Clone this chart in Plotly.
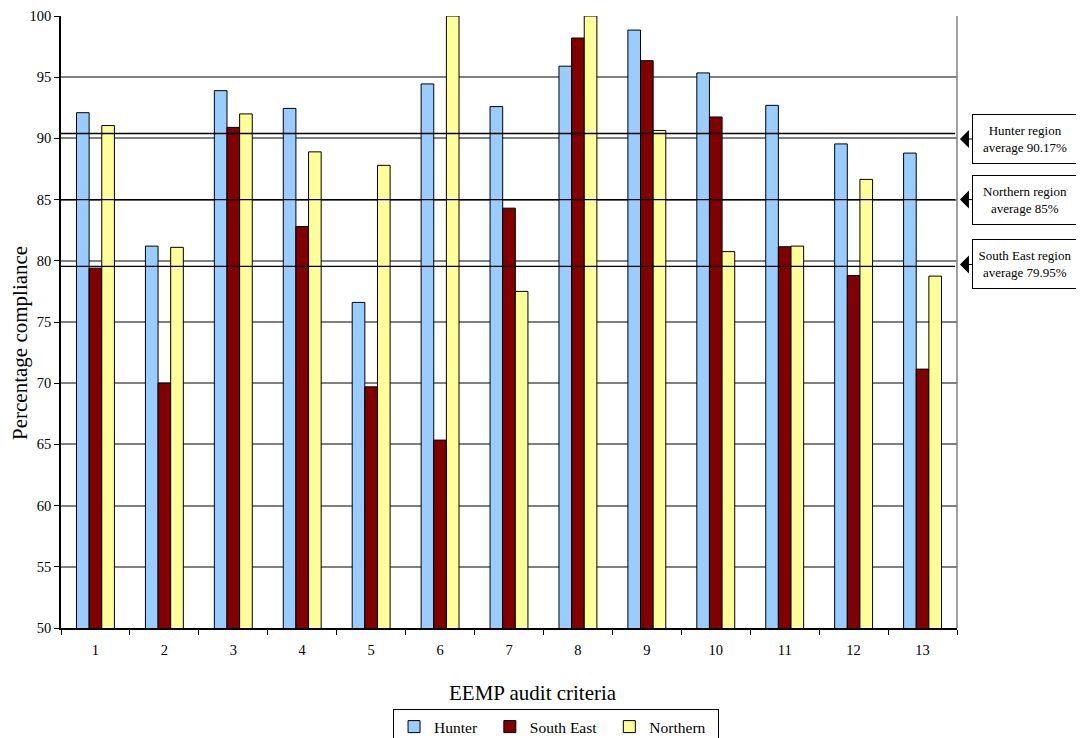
import plotly.graph_objects as go

criteria = [str(i) for i in range(1, 14)]
hunter = [92.1, 81.2, 93.9, 92.45, 76.6, 94.45, 92.6, 95.9, 98.85, 95.35, 92.7, 89.55, 88.8]
south_east = [79.4, 70.0, 90.9, 82.8, 69.7, 65.35, 84.3, 98.2, 96.35, 91.75, 81.15, 78.8, 71.15]
northern = [91.05, 81.1, 92.0, 88.9, 87.8, 100.0, 77.5, 100.0, 90.65, 80.75, 81.2, 86.65, 78.75]

series_names = ["Hunter", "South East", "Northern"]
series_colors = ["#99CCFF", "#800000", "#FFFF99"]

avg_labels = ["Hunter region<br>average 90.17%", "Northern region<br>average 85%",
              "South East region<br>average 79.95%"]
avg_line_levels = [90.4, 85.0, 79.55]
avg_arrow_levels = [89.95, 85.0, 79.7]

x_title = "EEMP audit criteria"
y_title = "Percentage compliance"

FONT = "Liberation Serif"
PAD = "\u00a0" * 2

fig = go.Figure()
for name, vals, col in zip(series_names, [hunter, south_east, northern], series_colors):
    fig.add_trace(go.Bar(x=criteria, y=vals, name=name + PAD,
                         marker=dict(color=col, line=dict(color="black", width=1))))

for lvl in avg_line_levels:
    fig.add_shape(type="line", xref="paper", yref="y", x0=-0.002, x1=0.998, y0=lvl, y1=lvl,
                  line=dict(color="black", width=1.3), layer="above")

# right border of plot area
fig.add_shape(type="line", xref="paper", yref="paper", x0=1, x1=1, y0=0, y1=1,
              line=dict(color="#808080", width=1.5), layer="below")

for txt, lvl in zip(avg_labels, avg_arrow_levels):
    fig.add_annotation(xref="paper", yref="y", x=1.0033, y=lvl, text=txt,
                       showarrow=True, arrowhead=1, arrowsize=3, arrowwidth=1,
                       arrowcolor="black", ax=65, ay=0, standoff=0,
                       font=dict(family=FONT, size=13, color="black"),
                       bordercolor="black", borderwidth=1, borderpad=3,
                       bgcolor="white", width=98, height=42, align="center")

# axis titles
fig.add_annotation(xref="paper", yref="paper", x=0.5268, y=-0.1062, text=x_title,
                   showarrow=False, xanchor="center", yanchor="middle",
                   font=dict(family=FONT, size=21, color="black"))
fig.add_annotation(xref="paper", yref="paper", x=-0.0458, y=0.4657, text=y_title,
                   showarrow=False, xanchor="center", yanchor="middle", textangle=-90,
                   font=dict(family=FONT, size=21, color="black"))

fig.update_layout(
    width=1076, height=730,
    margin=dict(l=53, r=127, t=8, b=110, autoexpand=False),
    paper_bgcolor="white", plot_bgcolor="white",
    barmode="group", bargap=0.45, bargroupgap=0,
    font=dict(family=FONT, size=14, color="black"),
    showlegend=True,
    legend=dict(orientation="h", x=0.5525, xanchor="center", y=-0.1324, yanchor="top",
                bordercolor="black", borderwidth=1, font=dict(family=FONT, size=15.5),
                itemwidth=30, tracegroupgap=0),
    xaxis=dict(type="category", showline=True, linecolor="black", linewidth=1.5,
               ticks="outside", tickson="boundaries", ticklen=5, tickcolor="black",
               showgrid=False, tickfont=dict(size=14.5), automargin=False,
               ticklabelstandoff=8),
    yaxis=dict(range=[50, 100], dtick=5, showline=True, linecolor="black", linewidth=1.5,
               ticks="outside", ticklen=5, tickcolor="black", automargin=False,
               showgrid=True, gridcolor="#808080", gridwidth=1.5,
               tickfont=dict(size=14.5)),
)

fig.write_html("out.html")
